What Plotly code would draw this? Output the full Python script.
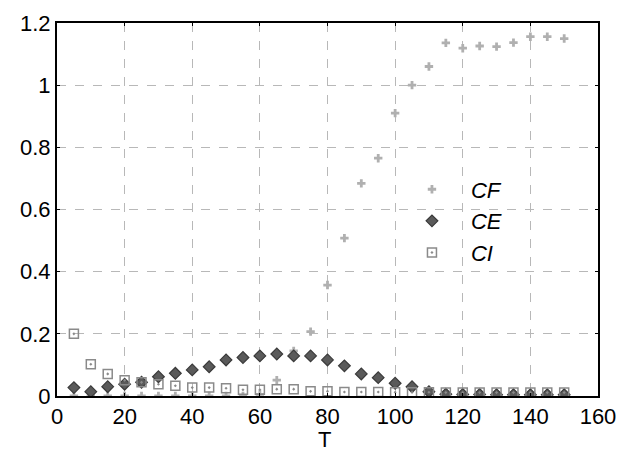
import plotly.graph_objects as go

T = [5, 10, 15, 20, 25, 30, 35, 40, 45, 50, 55, 60, 65, 70, 75, 80, 85, 90, 95, 100,
     105, 110, 115, 120, 125, 130, 135, 140, 145, 150]
CF = [0.0, 0.0, 0.0, 0.0, 0.0, 0.0, 0.0, 0.0, 0.0, 0.0, 0.0, 0.005, 0.051, 0.145, 0.207, 0.357,
      0.508, 0.684, 0.765, 0.91, 1.0, 1.06, 1.136, 1.119, 1.126, 1.124, 1.137, 1.156, 1.156, 1.15]
CE = [0.027, 0.014, 0.03, 0.038, 0.044, 0.062, 0.073, 0.084, 0.094, 0.116, 0.124, 0.129, 0.135,
      0.129, 0.129, 0.116, 0.097, 0.071, 0.059, 0.041, 0.03, 0.014, 0.006, 0.005, 0.005, 0.004,
      0.004, 0.004, 0.004, 0.004]
CI = [0.2, 0.102, 0.071, 0.051, 0.044, 0.038, 0.033, 0.027, 0.027, 0.025, 0.02, 0.02, 0.022,
      0.022, 0.015, 0.015, 0.013, 0.013, 0.013, 0.012, 0.012, 0.012, 0.011, 0.011, 0.011, 0.011,
      0.011, 0.011, 0.011, 0.011]
x_ticks = [0, 20, 40, 60, 80, 100, 120, 140, 160]
y_ticks = [0, 0.2, 0.4, 0.6, 0.8, 1, 1.2]
y_labels = ["0", "0.2", "0.4", "0.6", "0.8", "1", "1.2"]
x_title = "T"

fig = go.Figure()
fig.add_trace(go.Scatter(x=T, y=CF, mode="markers", name="CF",
                         marker=dict(symbol="cross", size=7, color="#b0b0b0")))
fig.add_trace(go.Scatter(x=T, y=CE, mode="markers", name="CE",
                         marker=dict(symbol="diamond", size=9, color="#5a5a5a",
                                     line=dict(width=1.2, color="#3a3a3a"))))
fig.add_trace(go.Scatter(x=T, y=CI, mode="markers", name="CI",
                         marker=dict(symbol="square-open-dot", size=9, color="#8a8a8a",
                                     line=dict(width=1.5))))

fig.update_layout(
    width=619, height=454,
    margin=dict(l=57, r=21, t=23, b=58, autoexpand=False),
    paper_bgcolor="white", plot_bgcolor="white",
    font=dict(family="Liberation Sans, Arial, sans-serif", size=22, color="black"),
    legend=dict(x=0.621, y=0.61, xanchor="left", yanchor="top", itemwidth=68,
                bgcolor="rgba(0,0,0,0)",
                font=dict(size=22, family="Liberation Sans, Arial, sans-serif")),
    showlegend=True,
    annotations=[dict(text=x_title, xref="paper", yref="paper", x=0.495, y=-0.116,
                      xanchor="center", yanchor="middle", showarrow=False,
                      font=dict(size=22, family="Liberation Sans, Arial, sans-serif"))],
)
fig.update_xaxes(range=[0, 160], tickvals=x_ticks, showgrid=True, gridcolor="#b8b8b8",
                 griddash="dash", gridwidth=1, showline=True, linecolor="black", linewidth=2,
                 mirror="ticks", ticks="inside", ticklen=3, tickcolor="black", zeroline=False,
                 automargin=False)
fig.update_yaxes(range=[0, 1.2], tickvals=y_ticks, ticktext=y_labels, showgrid=True,
                 gridcolor="#b8b8b8", griddash="dash", gridwidth=1, showline=True,
                 linecolor="black", linewidth=2, mirror="ticks", ticks="inside", ticklen=3,
                 tickcolor="black", zeroline=False, automargin=False)

# italic legend labels
for tr in fig.data:
    tr.name = "<i>" + tr.name + "</i>"

fig.write_html("out.html")
